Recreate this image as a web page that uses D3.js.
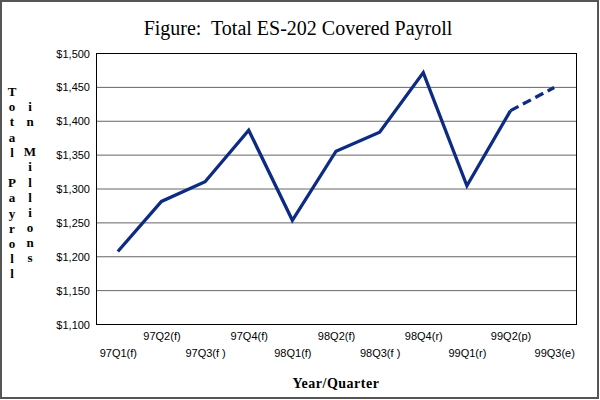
<!DOCTYPE html>
<html><head><meta charset="utf-8">
<script src="https://cdn.jsdelivr.net/npm/d3@7"></script>
<style>body{margin:0;background:#fff}svg{display:block}</style>
</head><body>
<svg id="chart" width="600" height="400"></svg>
<script>
const categories = ["97Q1(f)","97Q2(f)","97Q3(f )","97Q4(f)","98Q1(f)","98Q2(f)","98Q3(f )","98Q4(r)","99Q1(r)","99Q2(p)","99Q3(e)"];
const payroll = [1207, 1281, 1310, 1386, 1253, 1355, 1383, 1471, 1304, 1415, 1449];
const yTicks = [1100, 1150, 1200, 1250, 1300, 1350, 1400, 1450, 1500];
const titleText = "Figure:  Total ES-202 Covered Payroll";
const yTitle1 = "Total Payroll";
const yTitle2 = "in Millions";
const xTitle = "Year/Quarter";
const estimatedFrom = 9; // index where dashed (estimated) segment starts

const svg = d3.select("#chart");
const m = {left: 96, right: 576, top: 53, bottom: 324};

svg.append("rect").attr("x",1).attr("y",1).attr("width",597).attr("height",397)
  .attr("fill","#fff").attr("stroke","#555").attr("stroke-width",2);

const x = d3.scalePoint().domain(categories).range([m.left, m.right]).padding(0.5);
const y = d3.scaleLinear().domain([1100,1500]).range([m.bottom, m.top]);

// gridlines
svg.append("g").selectAll("line").data(yTicks.filter(d=>d>1100 && d<1500)).join("line")
  .attr("x1",m.left).attr("x2",m.right).attr("y1",d=>y(d)+0.5).attr("y2",d=>y(d)+0.5)
  .attr("stroke","#666").attr("stroke-width",1);

// plot border
svg.append("rect").attr("x",m.left+0.5).attr("y",m.top+0.5)
  .attr("width",m.right-m.left).attr("height",m.bottom-m.top)
  .attr("fill","none").attr("stroke","#000").attr("stroke-width",1);

// y axis
const yAxis = d3.axisLeft(y).tickValues(yTicks).tickSize(0).tickPadding(6)
  .tickFormat(d=>"$"+d3.format(",")(d));
const gy = svg.append("g").attr("transform",`translate(${m.left},0.5)`).call(yAxis);
gy.select(".domain").remove();
gy.selectAll("text").attr("font-family","Liberation Sans, Arial, sans-serif").attr("font-size",11).attr("fill","#000");

// x axis (staggered labels)
const xAxis = d3.axisBottom(x).tickSize(0).tickPadding(0);
const gx = svg.append("g").attr("transform",`translate(0,${m.bottom})`).call(xAxis);
gx.select(".domain").remove();
gx.selectAll("text").attr("font-family","Liberation Sans, Arial, sans-serif").attr("font-size",11).attr("fill","#000")
  .attr("dy",null)
  .attr("y",(d,i)=> i%2===1 ? 16 : 33);

// line
const pts = payroll.map((v,i)=>({c:categories[i], v}));
const line = d3.line().x(d=>x(d.c)).y(d=>y(d.v));
svg.append("path").datum(pts.slice(0, estimatedFrom+1)).attr("d",line)
  .attr("fill","none").attr("stroke","#0d2b82").attr("stroke-width",3.3).attr("stroke-linejoin","miter");
svg.append("path").datum(pts.slice(estimatedFrom)).attr("d",line)
  .attr("fill","none").attr("stroke","#0d2b82").attr("stroke-width",3.3).attr("stroke-dasharray","9,5");

// title
svg.append("text").attr("x",298).attr("y",35).attr("text-anchor","middle")
  .attr("font-family","Liberation Serif, Times New Roman, serif").attr("font-size",20).attr("fill","#000")
  .attr("xml:space","preserve").style("white-space","pre").text(titleText);

// y title stacked letters
function stacked(str, cx, y0, step){
  const g = svg.append("g");
  g.selectAll("text").data(str.split("")).join("text")
    .attr("x",cx).attr("y",(d,i)=>y0+i*step).attr("text-anchor","middle")
    .attr("font-family","Liberation Serif, Times New Roman, serif").attr("font-weight","bold")
    .attr("font-size",13).attr("fill","#000").text(d=>d);
}
stacked(yTitle1, 12, 96, 15.2);
stacked(yTitle2, 30, 111, 15.1);

// x title
svg.append("text").attr("x",(m.left+m.right)/2).attr("y",388).attr("text-anchor","middle")
  .attr("font-family","Liberation Serif, Times New Roman, serif").attr("font-weight","bold")
  .attr("font-size",14).attr("letter-spacing","0.5").attr("fill","#000").text(xTitle);
</script>
</body></html>
